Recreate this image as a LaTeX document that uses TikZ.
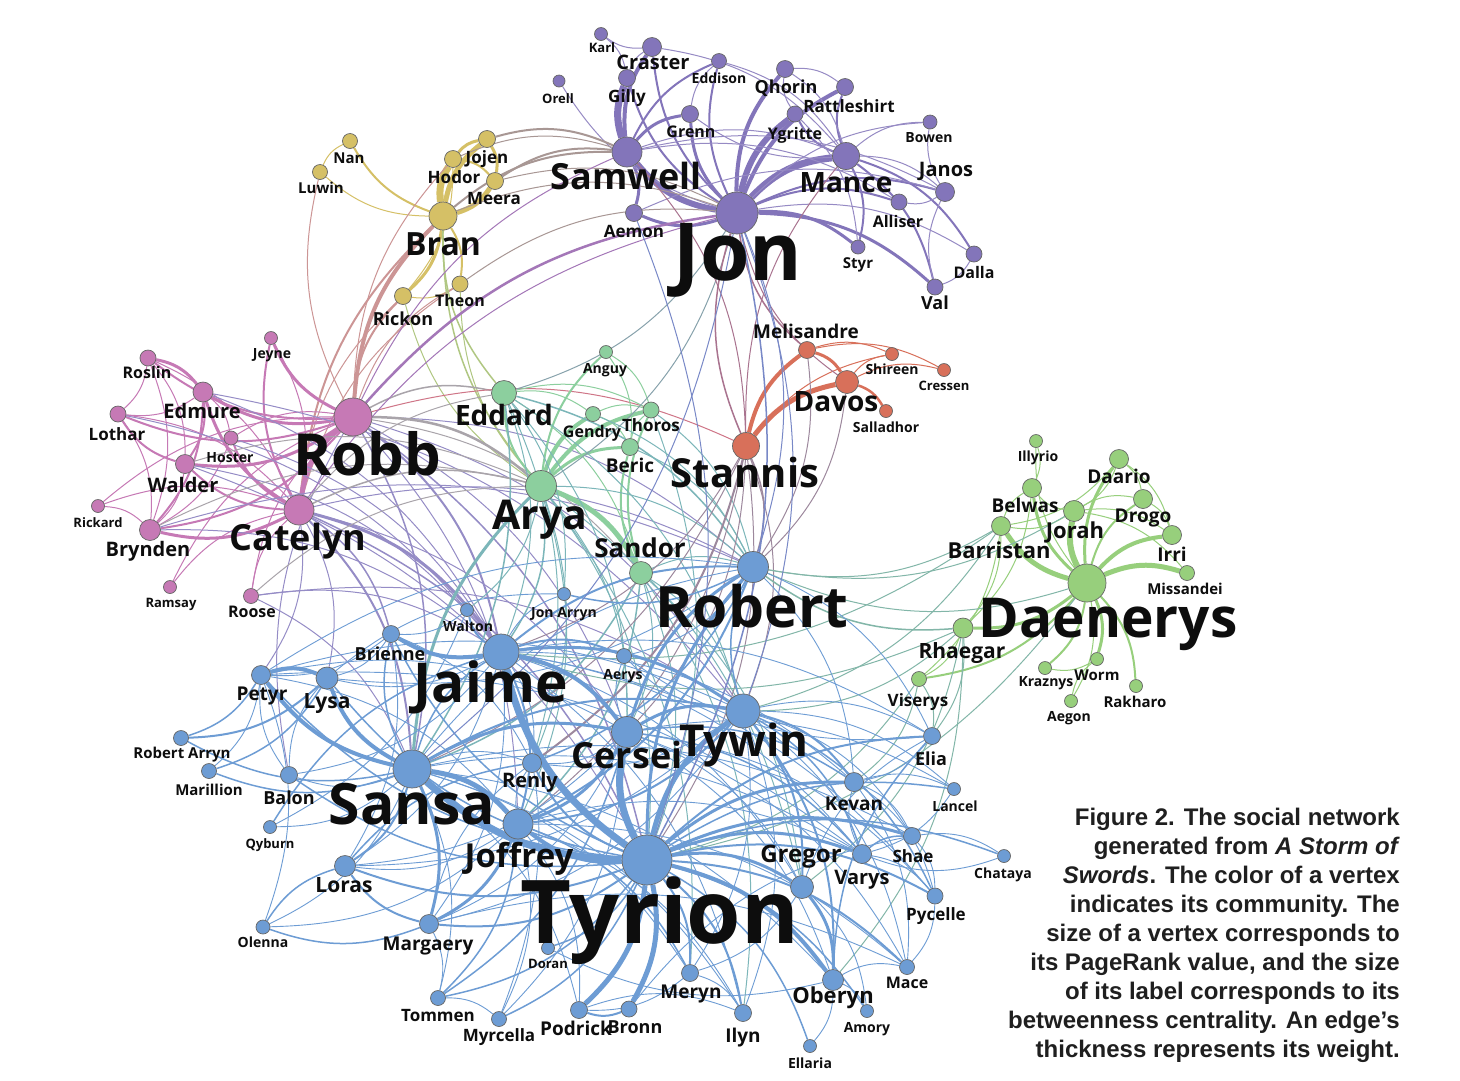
\documentclass[tikz,border=0pt]{standalone}
\usepackage{fontspec}
\usetikzlibrary{backgrounds}
\newfontfamily\labfont{Open Sans}
\newfontfamily\capfont{Liberation Sans}
\definecolor{cpu}{HTML}{8375BA}
\definecolor{cye}{HTML}{D5C066}
\definecolor{cpk}{HTML}{C679B5}
\definecolor{cgn}{HTML}{8CCF9E}
\definecolor{cor}{HTML}{D8705A}
\definecolor{clg}{HTML}{97CF7C}
\definecolor{cbl}{HTML}{6D9CD4}

\begin{document}
\begin{tikzpicture}[x=1pt, y=-1pt,
  vx/.style={circle, draw=black!60, line width=0.7pt, inner sep=0pt, minimum size=#1},
  lab/.style={anchor=base, inner sep=0pt, text=black!95, font=\labfont\bfseries\fontsize{#1}{#1}\selectfont},
  ed/.style={line width=#1, bend left=20}]

\useasboundingbox (0,0) rectangle (1460,1080);

% Night's Watch and beyond the Wall
\node[vx=13, fill=cpu] (Karl) at (601,34) {};
\node[vx=19, fill=cpu] (Craster) at (652,47) {};
\node[vx=17, fill=cpu] (Gilly) at (627,78) {};
\node[vx=15, fill=cpu] (Eddison) at (719,61) {};
\node[vx=12, fill=cpu] (Orell) at (559,81) {};
\node[vx=17, fill=cpu] (Qhorin) at (785,69) {};
\node[vx=17, fill=cpu] (Rattleshirt) at (845,87) {};
\node[vx=17, fill=cpu] (Grenn) at (690,114) {};
\node[vx=16, fill=cpu] (Ygritte) at (795,114) {};
\node[vx=14, fill=cpu] (Bowen) at (930,122) {};
\node[vx=30, fill=cpu] (Samwell) at (627,152) {};
\node[vx=27, fill=cpu] (Mance) at (846,156) {};
\node[vx=19, fill=cpu] (Janos) at (945,192) {};
\node[vx=16, fill=cpu] (Alliser) at (899,202) {};
\node[vx=42, fill=cpu] (Jon) at (737,213) {};
\node[vx=17, fill=cpu] (Aemon) at (634,213) {};
\node[vx=14, fill=cpu] (Styr) at (858,247) {};
\node[vx=16, fill=cpu] (Dalla) at (974,254) {};
\node[vx=16, fill=cpu] (Val) at (935,287) {};

\node[vx=15, fill=cye] (Nan) at (350,141) {};
\node[vx=15, fill=cye] (Luwin) at (320,172) {};
\node[vx=17, fill=cye] (Jojen) at (487,139) {};
\node[vx=17, fill=cye] (Hodor) at (453,159) {};
\node[vx=17, fill=cye] (Meera) at (495,181) {};
\node[vx=28, fill=cye] (Bran) at (443,216) {};
\node[vx=16, fill=cye] (Theon) at (460,284) {};
\node[vx=17, fill=cye] (Rickon) at (403,296) {};

\node[vx=13, fill=cpk] (Jeyne) at (271,338) {};
\node[vx=16, fill=cpk] (Roslin) at (148,358) {};
\node[vx=20, fill=cpk] (Edmure) at (203,392) {};
\node[vx=16, fill=cpk] (Lothar) at (118,414) {};
\node[vx=14, fill=cpk] (Hoster) at (231,438) {};
\node[vx=19, fill=cpk] (Walder) at (185,464) {};
\node[vx=38, fill=cpk] (Robb) at (353,417) {};
\node[vx=13, fill=cpk] (Rickard) at (98,506) {};
\node[vx=30, fill=cpk] (Catelyn) at (299,510) {};
\node[vx=21, fill=cpk] (Brynden) at (150,530) {};
\node[vx=13, fill=cpk] (Ramsay) at (170,587) {};
\node[vx=15, fill=cpk] (Roose) at (251,596) {};

\node[vx=13, fill=cgn] (Anguy) at (606,352) {};
\node[vx=25, fill=cgn] (Eddard) at (504,393) {};
\node[vx=15, fill=cgn] (Gendry) at (593,414) {};
\node[vx=16, fill=cgn] (Thoros) at (651,410) {};
\node[vx=17, fill=cgn] (Beric) at (630,447) {};
\node[vx=31, fill=cgn] (Arya) at (541,486) {};
\node[vx=23, fill=cgn] (Sandor) at (641,573) {};

\node[vx=17, fill=cor] (Melisandre) at (807,350) {};
\node[vx=13, fill=cor] (Shireen) at (892,354) {};
\node[vx=13, fill=cor] (Cressen) at (944,370) {};
\node[vx=23, fill=cor] (Davos) at (847,382) {};
\node[vx=13, fill=cor] (Salladhor) at (886,411) {};
\node[vx=27, fill=cor] (Stannis) at (746,446) {};

\node[vx=13, fill=clg] (Illyrio) at (1036,441) {};
\node[vx=19, fill=clg] (Daario) at (1119,459) {};
\node[vx=19, fill=clg] (Belwas) at (1032,488) {};
\node[vx=21, fill=clg] (Jorah) at (1074,511) {};
\node[vx=19, fill=clg] (Drogo) at (1143,499) {};
\node[vx=19, fill=clg] (Barristan) at (1001,526) {};
\node[vx=19, fill=clg] (Irri) at (1172,535) {};
\node[vx=15, fill=clg] (Missandei) at (1187,573) {};
\node[vx=38, fill=clg] (Daenerys) at (1087,583) {};
\node[vx=20, fill=clg] (Rhaegar) at (963,628) {};
\node[vx=13, fill=clg] (Kraznys) at (1045,668) {};
\node[vx=13, fill=clg] (Worm) at (1097,659) {};
\node[vx=13, fill=clg] (Aegon) at (1071,701) {};
\node[vx=13, fill=clg] (Rakharo) at (1136,686) {};
\node[vx=15, fill=clg] (Viserys) at (919,679) {};

\node[vx=31, fill=cbl] (Robert) at (753,567) {};
\node[vx=13, fill=cbl] (JonArryn) at (564,594) {};
\node[vx=13, fill=cbl] (Walton) at (467,610) {};
\node[vx=17, fill=cbl] (Brienne) at (391,634) {};
\node[vx=36, fill=cbl] (Jaime) at (501,652) {};
\node[vx=19, fill=cbl] (Petyr) at (261,675) {};
\node[vx=22, fill=cbl] (Lysa) at (327,678) {};
\node[vx=15, fill=cbl] (Aerys) at (624,656) {};
\node[vx=34, fill=cbl] (Tywin) at (743,711) {};
\node[vx=31, fill=cbl] (Cersei) at (627,732) {};
\node[vx=15, fill=cbl] (RobertArryn) at (181,738) {};
\node[vx=15, fill=cbl] (Marillion) at (209,771) {};
\node[vx=17, fill=cbl] (Balon) at (289,775) {};
\node[vx=38, fill=cbl] (Sansa) at (412,769) {};
\node[vx=19, fill=cbl] (Renly) at (532,763) {};
\node[vx=17, fill=cbl] (Elia) at (932,736) {};
\node[vx=19, fill=cbl] (Kevan) at (854,782) {};
\node[vx=13, fill=cbl] (Lancel) at (954,789) {};
\node[vx=13, fill=cbl] (Qyburn) at (270,827) {};
\node[vx=30, fill=cbl] (Joffrey) at (518,824) {};
\node[vx=17, fill=cbl] (Shae) at (912,836) {};
\node[vx=19, fill=cbl] (Varys) at (862,854) {};
\node[vx=13, fill=cbl] (Chataya) at (1004,856) {};
\node[vx=50, fill=cbl] (Tyrion) at (647,860) {};
\node[vx=21, fill=cbl] (Loras) at (345,866) {};
\node[vx=23, fill=cbl] (Gregor) at (802,887) {};
\node[vx=16, fill=cbl] (Pycelle) at (935,896) {};
\node[vx=14, fill=cbl] (Olenna) at (263,927) {};
\node[vx=19, fill=cbl] (Margaery) at (429,924) {};
\node[vx=13, fill=cbl] (Doran) at (548,948) {};
\node[vx=15, fill=cbl] (Mace) at (907,967) {};
\node[vx=17, fill=cbl] (Meryn) at (690,973) {};
\node[vx=21, fill=cbl] (Oberyn) at (833,980) {};
\node[vx=15, fill=cbl] (Tommen) at (438,998) {};
\node[vx=17, fill=cbl] (Podrick) at (579,1010) {};
\node[vx=16, fill=cbl] (Bronn) at (629,1009) {};
\node[vx=17, fill=cbl] (Ilyn) at (743,1013) {};
\node[vx=13, fill=cbl] (Amory) at (867,1011) {};
\node[vx=15, fill=cbl] (Myrcella) at (499,1019) {};
\node[vx=13, fill=cbl] (Ellaria) at (810,1046) {};

\begin{pgfonlayer}{background}
\fill[white] (0,0) rectangle (1460,1080);
% purple
\foreach \a/\b in {Jon/Mance, Samwell/Gilly} \draw[ed=7, cpu] (\a) to (\b);
\foreach \a/\b in {Jon/Samwell, Jon/Ygritte} \draw[ed=6, cpu] (\a) to (\b);
\foreach \a/\b in {Jon/Qhorin, Jon/Rattleshirt, Samwell/Craster} \draw[ed=4, cpu] (\a) to (\b);
\foreach \a/\b in {Jon/Grenn, Samwell/Grenn, Samwell/Aemon, Jon/Aemon, Jon/Val, Jon/Styr} \draw[ed=3, cpu] (\a) to (\b);
\foreach \a/\b in {Jon/Alliser, Jon/Janos, Jon/Craster, Jon/Gilly, Jon/Eddison, Samwell/Eddison, Mance/Ygritte, Mance/Val, Mance/Styr, Mance/Dalla, Mance/Rattleshirt} \draw[ed=2, cpu] (\a) to (\b);
\foreach \a/\b in {Craster/Karl, Jon/Orell, Mance/Bowen, Janos/Alliser, Mance/Janos, Dalla/Val, Jon/Dalla, Ygritte/Qhorin, Qhorin/Rattleshirt, Samwell/Mance, Gilly/Craster, Grenn/Eddison, Mance/Grenn, Ygritte/Styr, Janos/Bowen, Samwell/Alliser, Val/Janos, Samwell/Janos, Karl/Gilly, Qhorin/Mance, Eddison/Mance, Craster/Mance, Jon/Bowen, Aemon/Janos} \draw[ed=1, cpu!85!white] (\a) to (\b);
% yellow
\draw[ed=7, cye] (Bran) to (Hodor);
\foreach \a/\b in {Bran/Jojen, Meera/Bran} \draw[ed=5, cye] (\a) to (\b);
\foreach \a/\b in {Hodor/Jojen, Jojen/Meera, Bran/Rickon} \draw[ed=3, cye] (\a) to (\b);
\foreach \a/\b in {Bran/Theon, Bran/Nan, Hodor/Meera} \draw[ed=2, cye] (\a) to (\b);
\foreach \a/\b in {Bran/Luwin, Luwin/Nan, Theon/Rickon, Hodor/Rickon} \draw[ed=1, cye] (\a) to (\b);
\foreach \a/\b in {Jojen/Samwell, Meera/Samwell, Bran/Samwell} \draw[ed=2, cye!45!cpu] (\a) to (\b);
\foreach \a/\b in {Theon/Jon, Meera/Jon, Bran/Jon, Hodor/Samwell} \draw[ed=1, cye!45!cpu] (\a) to (\b);
\draw[ed=4, cye!40!cpk] (Robb) to (Bran);
\foreach \a/\b in {Robb/Rickon, Catelyn/Bran} \draw[ed=2, cye!40!cpk] (\a) to (\b);
\foreach \a/\b in {Robb/Theon, Catelyn/Rickon, Catelyn/Theon, Robb/Hodor, Robb/Luwin} \draw[ed=1, cye!40!cpk] (\a) to (\b);
\foreach \a/\b in {Arya/Bran, Eddard/Bran} \draw[ed=1.5, cye!50!cgn] (\a) to (\b);
\foreach \a/\b in {Arya/Rickon, Arya/Theon} \draw[ed=1, cye!50!cgn] (\a) to (\b);
% pink
\draw[ed=5, cpk] (Catelyn) to (Robb);
\foreach \a/\b in {Robb/Jeyne, Robb/Edmure, Robb/Walder, Catelyn/Brynden, Roslin/Edmure, Catelyn/Edmure} \draw[ed=3, cpk] (\a) to (\b);
\foreach \a/\b in {Robb/Brynden, Catelyn/Walder, Walder/Lothar, Robb/Roslin, Robb/Lothar, Catelyn/Hoster, Edmure/Walder, Edmure/Brynden, Catelyn/Jeyne} \draw[ed=2, cpk] (\a) to (\b);
\foreach \a/\b in {Edmure/Hoster, Roslin/Lothar, Roslin/Walder, Rickard/Catelyn, Rickard/Robb, Rickard/Brynden, Ramsay/Catelyn, Roose/Catelyn, Roose/Robb, Roslin/Brynden, Lothar/Brynden, Hoster/Brynden, Edmure/Lothar, Hoster/Robb, Jeyne/Catelyn, Ramsay/Robb, Walder/Brynden, Lothar/Catelyn, Roslin/Catelyn} \draw[ed=1, cpk] (\a) to (\b);
\draw[ed=3, cpk!45!cbl] (Catelyn) to (Jaime);
\foreach \a/\b in {Robb/Jaime, Catelyn/Sansa} \draw[ed=2, cpk!45!cbl] (\a) to (\b);
\foreach \a/\b in {Robb/Tyrion, Robb/Sansa, Catelyn/Tyrion, Catelyn/Brienne} \draw[ed=1.5, cpk!45!cbl] (\a) to (\b);
\foreach \a/\b in {Robb/Tywin, Robb/Cersei, Catelyn/Lysa, Catelyn/Petyr, Brynden/Robert, Roose/Jaime, Robb/Joffrey, Catelyn/Cersei, Edmure/Tywin, Hoster/Jaime, Walder/Jaime, Brynden/Jaime, Robb/Robert, Roose/Sansa, Balon/Robb, Edmure/Jaime, Walder/Tyrion, Lothar/Jaime, Catelyn/Robert, Roose/Tywin} \draw[ed=1, cpk!45!cbl] (\a) to (\b);
\draw[ed=2.5, cpk!50!cgn] (Robb) to (Arya);
\foreach \a/\b in {Robb/Eddard, Catelyn/Arya} \draw[ed=1.5, cpk!50!cgn] (\a) to (\b);
\foreach \a/\b in {Catelyn/Eddard, Roose/Arya, Walder/Arya, Brynden/Arya, Robb/Sandor} \draw[ed=1, cpk!50!cgn] (\a) to (\b);
\draw[ed=1, cpk!50!cor] (Robb) to (Stannis);
\draw[ed=2.5, cpk!50!cpu] (Robb) to (Jon);
\foreach \a/\b in {Catelyn/Jon, Robb/Samwell} \draw[ed=1, cpk!50!cpu] (\a) to (\b);
% green
\draw[ed=5, cgn] (Arya) to (Sandor);
\foreach \a/\b in {Arya/Gendry, Arya/Thoros} \draw[ed=4, cgn] (\a) to (\b);
\draw[ed=3, cgn] (Arya) to (Beric);
\foreach \a/\b in {Arya/Anguy, Arya/Eddard, Sandor/Beric, Sandor/Thoros} \draw[ed=2, cgn] (\a) to (\b);
\foreach \a/\b in {Gendry/Thoros, Beric/Thoros, Anguy/Thoros, Gendry/Beric, Eddard/Sandor, Anguy/Beric, Eddard/Gendry, Eddard/Thoros} \draw[ed=1, cgn] (\a) to (\b);
\draw[ed=3, cgn!50!cbl] (Sansa) to (Arya);
\foreach \a/\b in {Arya/Jaime, Eddard/Sansa, Eddard/Robert, Sandor/Joffrey, Sandor/Sansa} \draw[ed=1.5, cgn!50!cbl] (\a) to (\b);
\foreach \a/\b in {Arya/Tyrion, Arya/Robert, Arya/Joffrey, Arya/Cersei, Eddard/Cersei, Eddard/Jaime, Sandor/Tyrion, Sandor/Robert, Sandor/Gregor, Sandor/Cersei, Gendry/Robert, Arya/Gregor, Arya/Meryn, Beric/Robert, Thoros/Tyrion, Eddard/Tywin, Arya/Walton, Sandor/Ilyn, Eddard/JonArryn, Arya/Renly, Eddard/Renly, Sandor/Tywin, Thoros/Robert} \draw[ed=1, cgn!50!cbl] (\a) to (\b);
\foreach \a/\b in {Jon/Arya, Jon/Eddard} \draw[ed=1, cgn!50!cpu] (\a) to (\b);
% orange
\draw[ed=5, cor] (Stannis) to (Davos);
\draw[ed=4, cor] (Stannis) to (Melisandre);
\draw[ed=3, cor] (Melisandre) to (Davos);
\draw[ed=2.5, cor] (Davos) to (Salladhor);
\foreach \a/\b in {Davos/Shireen, Davos/Cressen, Melisandre/Shireen, Stannis/Shireen, Melisandre/Cressen} \draw[ed=1, cor] (\a) to (\b);
\draw[ed=2, cor!45!cbl] (Stannis) to (Renly);
\draw[ed=1.5, cor!45!cbl] (Stannis) to (Robert);
\foreach \a/\b in {Stannis/Tyrion, Stannis/Tywin, Stannis/Joffrey, Davos/Robert, Stannis/Cersei, Stannis/Jaime, Melisandre/Robert, Stannis/Sansa} \draw[ed=1, cor!45!cbl] (\a) to (\b);
\foreach \a/\b in {Stannis/Jon, Melisandre/Jon} \draw[ed=1.5, cor!45!cpu] (\a) to (\b);
\foreach \a/\b in {Samwell/Stannis, Davos/Jon, Stannis/Mance} \draw[ed=1, cor!45!cpu] (\a) to (\b);
% Daenerys
\draw[ed=6, clg] (Daenerys) to (Jorah);
\foreach \a/\b in {Daenerys/Barristan, Daenerys/Missandei} \draw[ed=5, clg] (\a) to (\b);
\draw[ed=4, clg] (Daenerys) to (Irri);
\foreach \a/\b in {Daenerys/Belwas, Daenerys/Daario, Daenerys/Rhaegar, Daenerys/Worm} \draw[ed=3, clg] (\a) to (\b);
\foreach \a/\b in {Daenerys/Drogo, Daenerys/Kraznys, Daenerys/Viserys, Daenerys/Rakharo} \draw[ed=2, clg] (\a) to (\b);
\foreach \a/\b in {Daenerys/Aegon, Daenerys/Illyrio, Jorah/Barristan, Jorah/Belwas, Barristan/Belwas, Daario/Drogo, Daario/Jorah, Daario/Barristan, Drogo/Irri, Jorah/Drogo, Illyrio/Belwas, Aegon/Worm, Rhaegar/Viserys, Barristan/Rhaegar, Jorah/Irri, Daario/Irri, Barristan/Viserys, Jorah/Missandei, Belwas/Rhaegar, Worm/Kraznys} \draw[ed=1, clg] (\a) to (\b);
\draw[ed=1.5, clg!50!cbl] (Rhaegar) to (Robert);
\foreach \a/\b in {Rhaegar/Elia, Viserys/Elia, Barristan/Robert, Daenerys/Tyrion, Daenerys/Robert, Jorah/Robert, Rhaegar/Oberyn, Viserys/Tyrion, Rhaegar/Jaime, Barristan/Jaime, Rhaegar/Tywin, Viserys/Kevan, Barristan/Tywin, Rhaegar/Gregor} \draw[ed=1, clg!50!cbl] (\a) to (\b);
% blue
\foreach \a/\b in {Tyrion/Jaime, Tyrion/Cersei, Tyrion/Sansa} \draw[ed=7, cbl] (\a) to (\b);
\foreach \a/\b in {Tyrion/Tywin, Sansa/Joffrey, Tyrion/Podrick, Tyrion/Bronn} \draw[ed=5, cbl] (\a) to (\b);
\foreach \a/\b in {Tyrion/Joffrey, Tyrion/Oberyn, Jaime/Cersei, Jaime/Brienne, Sansa/Petyr, Sansa/Lysa, Petyr/Lysa} \draw[ed=4, cbl] (\a) to (\b);
\foreach \a/\b in {Tyrion/Shae, Tyrion/Varys, Tyrion/Gregor, Tyrion/Kevan, Tyrion/Robert, Sansa/Margaery, Jaime/Tywin, Cersei/Tywin, Cersei/Joffrey, Cersei/Robert, Joffrey/Margaery, Gregor/Oberyn, Sansa/Cersei} \draw[ed=3, cbl] (\a) to (\b);
\foreach \a/\b in {Tyrion/Meryn, Tyrion/Pycelle, Tyrion/Margaery, Tyrion/Loras, Tyrion/Renly, Tyrion/Mace, Sansa/Loras, Sansa/Tywin, Jaime/Robert, Jaime/Joffrey, Jaime/Aerys, Jaime/Walton, Lysa/RobertArryn, Tywin/Kevan, Tywin/Joffrey, Tywin/Gregor, Tywin/Oberyn, Robert/Joffrey, Margaery/Loras, Bronn/Podrick, Tyrion/Ilyn, Tyrion/Elia} \draw[ed=2, cbl] (\a) to (\b);
\foreach \a/\b in {Tyrion/Chataya, Tyrion/Doran, Tyrion/Ellaria, Tyrion/Amory, Tyrion/Balon, Tyrion/Petyr, Tyrion/Lysa, Tyrion/Brienne, Tyrion/Tommen, Tyrion/Myrcella, Tyrion/Lancel, Sansa/Jaime, Sansa/Brienne, Sansa/RobertArryn, Sansa/Marillion, Lysa/Marillion, Petyr/RobertArryn, Cersei/Kevan, Cersei/Varys, Cersei/Tommen, Tywin/Robert, Tywin/Pycelle, Tywin/Varys, Robert/Renly, Robert/JonArryn, Oberyn/Elia, Joffrey/Meryn, Joffrey/Tommen, Margaery/Olenna, Loras/Renly, Varys/Shae, Olenna/Loras, Qyburn/Jaime} \draw[ed=1.5, cbl] (\a) to (\b);
\foreach \a/\b in {Sansa/Balon, Sansa/Renly, Sansa/Olenna, Sansa/Qyburn, Sansa/Robert, Sansa/Podrick, Sansa/Meryn, Sansa/Tommen, Sansa/Ilyn, Sansa/Varys, Sansa/Shae, Sansa/Oberyn, Jaime/Loras, Jaime/Lysa, Jaime/Renly, Jaime/Kevan, Jaime/Gregor, Jaime/Myrcella, Jaime/Ilyn, Jaime/JonArryn, Jaime/Elia, Jaime/Varys, Jaime/Pycelle, Jaime/Margaery, Jaime/Balon, Petyr/Marillion, Lysa/JonArryn, Petyr/Joffrey, Petyr/Cersei, Petyr/Tywin, Petyr/Olenna, Petyr/Robert, Petyr/Varys, Cersei/Pycelle, Cersei/Myrcella, Cersei/Margaery, Cersei/Loras, Cersei/Renly, Cersei/Lancel, Cersei/Gregor, Cersei/Aerys, Cersei/Oberyn, Cersei/Mace, Tywin/Mace, Tywin/Elia, Tywin/Aerys, Tywin/Ilyn, Tywin/Meryn, Tywin/Lancel, Tywin/Margaery, Tywin/Loras, Tywin/Renly, Tywin/Shae, Robert/Aerys, Robert/Lysa, Robert/Elia, Robert/Kevan, Gregor/Elia, Gregor/Amory, Gregor/Meryn, Oberyn/Ellaria, Oberyn/Amory, Oberyn/Doran, Oberyn/Mace, Joffrey/Renly, Joffrey/Podrick, Joffrey/Myrcella, Joffrey/Loras, Joffrey/Ilyn, Joffrey/Olenna, Joffrey/Mace, Joffrey/Varys, Margaery/Mace, Margaery/Tommen, Margaery/Renly, Varys/Kevan, Shae/Pycelle, Kevan/Pycelle, Kevan/Mace, Kevan/Lancel, Shae/Chataya, Varys/Pycelle, Kevan/Shae, Meryn/Ilyn, Podrick/Ilyn, Meryn/Podrick, Bronn/Shae, Balon/Petyr, Balon/Lysa, Walton/Brienne, Brienne/Loras, Brienne/Renly, Brienne/Petyr, Walton/Qyburn, Tommen/Myrcella, Elia/Kevan, Elia/Aerys, Lancel/Varys, Pycelle/Mace, Chataya/Varys, Brienne/Lysa} \draw[ed=0.9, cbl] (\a) to (\b);
\draw[ed=1.5, cbl!50!cpu] (Jon) to (Tyrion);
\foreach \a/\b in {Jon/Sansa, Jon/Tywin, Jon/Robert, Aemon/Tyrion} \draw[ed=1, cbl!50!cpu] (\a) to (\b);
\end{pgfonlayer}

\node[lab=13] (Karl-t) at (602,52) {Karl};
\node[lab=20] (Craster-t) at (653,69) {Craster};
\node[lab=17] (Gilly-t) at (627,102) {Gilly};
\node[lab=14] (Eddison-t) at (719,83) {Eddison};
\node[lab=13] (Orell-t) at (558,103) {Orell};
\node[lab=18] (Qhorin-t) at (786,93) {Qhorin};
\node[lab=17] (Rattleshirt-t) at (849,112) {Rattleshirt};
\node[lab=16] (Grenn-t) at (691,137) {Grenn};
\node[lab=16] (Ygritte-t) at (795,139) {Ygritte};
\node[lab=14] (Bowen-t) at (929,142) {Bowen};
\node[lab=36] (Samwell-t) at (626,189) {Samwell};
\node[lab=28] (Mance-t) at (846,192) {Mance};
\node[lab=20] (Janos-t) at (946,176) {Janos};
\node[lab=16] (Alliser-t) at (898,227) {Alliser};
\node[lab=80] (Jon-t) at (738,280) {Jon};
\node[lab=17] (Aemon-t) at (634,237) {Aemon};
\node[lab=15] (Styr-t) at (858,268) {Styr};
\node[lab=16] (Dalla-t) at (974,278) {Dalla};
\node[lab=18] (Val-t) at (935,309) {Val};

\node[lab=15] (Nan-t) at (349,163) {Nan};
\node[lab=15] (Luwin-t) at (321,193) {Luwin};
\node[lab=17] (Jojen-t) at (487,163) {Jojen};
\node[lab=17] (Hodor-t) at (454,183) {Hodor};
\node[lab=17] (Meera-t) at (494,204) {Meera};
\node[lab=32] (Bran-t) at (443,255) {Bran};
\node[lab=16] (Theon-t) at (460,306) {Theon};
\node[lab=18] (Rickon-t) at (403,325) {Rickon};

\node[lab=14] (Jeyne-t) at (272,358) {Jeyne};
\node[lab=16] (Roslin-t) at (147,378) {Roslin};
\node[lab=20] (Edmure-t) at (202,418) {Edmure};
\node[lab=17] (Lothar-t) at (117,440) {Lothar};
\node[lab=14] (Hoster-t) at (230,462) {Hoster};
\node[lab=20] (Walder-t) at (183,492) {Walder};
\node[lab=58] (Robb-t) at (367,475) {Robb};
\node[lab=13] (Rickard-t) at (98,527) {Rickard};
\node[lab=36] (Catelyn-t) at (298,550) {Catelyn};
\node[lab=20] (Brynden-t) at (148,556) {Brynden};
\node[lab=13] (Ramsay-t) at (171,607) {Ramsay};
\node[lab=16] (Roose-t) at (252,617) {Roose};

\node[lab=14] (Anguy-t) at (605,373) {Anguy};
\node[lab=28] (Eddard-t) at (504,425) {Eddard};
\node[lab=16] (Gendry-t) at (592,437) {Gendry};
\node[lab=17] (Thoros-t) at (651,431) {Thoros};
\node[lab=19] (Beric-t) at (630,472) {Beric};
\node[lab=41] (Arya-t) at (540,529) {Arya};
\node[lab=26] (Sandor-t) at (640,557) {Sandor};

\node[lab=19] (Melisandre-t) at (806,338) {Melisandre};
\node[lab=14] (Shireen-t) at (892,374) {Shireen};
\node[lab=13] (Cressen-t) at (944,390) {Cressen};
\node[lab=28] (Davos-t) at (836,411) {Davos};
\node[lab=14] (Salladhor-t) at (886,432) {Salladhor};
\node[lab=40] (Stannis-t) at (745,487) {Stannis};

\node[lab=14] (Illyrio-t) at (1038,461) {Illyrio};
\node[lab=19] (Daario-t) at (1119,483) {Daario};
\node[lab=19] (Belwas-t) at (1025,512) {Belwas};
\node[lab=19] (Drogo-t) at (1143,522) {Drogo};
\node[lab=22] (Jorah-t) at (1075,538) {Jorah};
\node[lab=22] (Barristan-t) at (999,558) {Barristan};
\node[lab=19] (Irri-t) at (1172,561) {Irri};
\node[lab=15] (Missandei-t) at (1185,594) {Missandei};
\node[lab=55] (Daenerys-t) at (1108,637) {Daenerys};
\node[lab=21] (Rhaegar-t) at (962,658) {Rhaegar};
\node[lab=14] (Kraznys-t) at (1046,686) {Kraznys};
\node[lab=15] (Worm-t) at (1097,680) {Worm};
\node[lab=14] (Aegon-t) at (1069,721) {Aegon};
\node[lab=15] (Rakharo-t) at (1135,707) {Rakharo};
\node[lab=17] (Viserys-t) at (918,706) {Viserys};

\node[lab=57] (Robert-t) at (752,627) {Robert};
\node[lab=14] (JonArryn-t) at (564,617) {Jon Arryn};
\node[lab=14] (Walton-t) at (468,631) {Walton};
\node[lab=18] (Brienne-t) at (390,660) {Brienne};
\node[lab=55] (Jaime-t) at (491,702) {Jaime};
\node[lab=19] (Petyr-t) at (262,700) {Petyr};
\node[lab=21] (Lysa-t) at (327,708) {Lysa};
\node[lab=14] (Aerys-t) at (623,679) {Aerys};
\node[lab=44] (Tywin-t) at (744,756) {Tywin};
\node[lab=36] (Cersei-t) at (627,768) {Cersei};
\node[lab=15] (RobertArryn-t) at (182,758) {Robert Arryn};
\node[lab=15] (Marillion-t) at (209,795) {Marillion};
\node[lab=18] (Balon-t) at (289,804) {Balon};
\node[lab=57] (Sansa-t) at (412,824) {Sansa};
\node[lab=20] (Renly-t) at (530,787) {Renly};
\node[lab=18] (Elia-t) at (931,765) {Elia};
\node[lab=19] (Kevan-t) at (854,810) {Kevan};
\node[lab=14] (Lancel-t) at (955,811) {Lancel};
\node[lab=13] (Qyburn-t) at (270,848) {Qyburn};
\node[lab=33] (Joffrey-t) at (519,867) {Joffrey};
\node[lab=17] (Shae-t) at (913,862) {Shae};
\node[lab=20] (Varys-t) at (862,884) {Varys};
\node[lab=14] (Chataya-t) at (1003,878) {Chataya};
\node[lab=88] (Tyrion-t) at (660,943) {Tyrion};
\node[lab=21] (Loras-t) at (344,892) {Loras};
\node[lab=24] (Gregor-t) at (801,862) {Gregor};
\node[lab=17] (Pycelle-t) at (936,920) {Pycelle};
\node[lab=14] (Olenna-t) at (263,947) {Olenna};
\node[lab=19] (Margaery-t) at (428,950) {Margaery};
\node[lab=13] (Doran-t) at (548,968) {Doran};
\node[lab=16] (Mace-t) at (907,988) {Mace};
\node[lab=19] (Meryn-t) at (691,998) {Meryn};
\node[lab=22] (Oberyn-t) at (833,1003) {Oberyn};
\node[lab=17] (Tommen-t) at (438,1021) {Tommen};
\node[lab=19] (Podrick-t) at (576,1035) {Podrick};
\node[lab=18] (Bronn-t) at (635,1033) {Bronn};
\node[lab=19] (Ilyn-t) at (743,1042) {Ilyn};
\node[lab=14] (Amory-t) at (867,1032) {Amory};
\node[lab=17] (Myrcella-t) at (499,1041) {Myrcella};
\node[lab=14] (Ellaria-t) at (810,1068) {Ellaria};

\node[anchor=north east, align=right, inner sep=0pt, text=black!88,
  font=\capfont\bfseries\fontsize{24}{29}\selectfont] (caption) at (1400,808)
  {Figure 2. The social network\\ generated from \textit{A Storm of}\\ \textit{Swords}. The color of a vertex\\ indicates its community. The\\ size of a vertex corresponds to\\ its PageRank value, and the size\\ of its label corresponds to its\\ betweenness centrality. An edge’s\\ thickness represents its weight.};
\end{tikzpicture}
\end{document}
